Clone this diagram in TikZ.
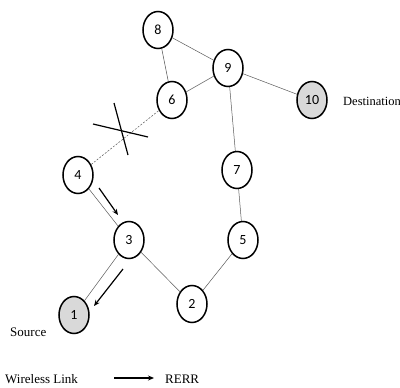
\documentclass[tikz,border=0pt]{standalone}
\usepackage{fontspec}
\setmainfont{Liberation Serif}
\newfontfamily\numfont{Carlito}
\usetikzlibrary{shapes.geometric,arrows.meta}
\begin{document}
\begin{tikzpicture}[x=1pt,y=-1pt,
  nd/.style={ellipse,draw=black,line width=1.5pt,minimum width=30pt,minimum height=37pt,inner sep=0pt,fill=white,font=\numfont\fontsize{14}{15}\selectfont},
  gnd/.style={nd,fill=black!15},
  link/.style={draw=black!65,line width=0.5pt},
  rerr/.style={-{Stealth[length=6pt,width=5pt]},line width=1.2pt},
  lbl/.style={font=\fontsize{13}{14}\selectfont,inner sep=0pt}]
\useasboundingbox (0,0) rectangle (400,388);
\node[nd] (n8) at (158,30) {8};
\node[nd] (n9) at (228,68) {9};
\node[nd] (n6) at (172,100) {6};
\node[gnd] (n10) at (312,100) {10};
\node[nd] (n4) at (78,175) {4};
\node[nd] (n7) at (237,170) {7};
\node[nd] (n3) at (129,240) {3};
\node[nd] (n5) at (243,240) {5};
\node[nd] (n2) at (192,304) {2};
\node[gnd] (n1) at (74,315) {1};
\node[lbl,anchor=west,font=\fontsize{12.5}{14}\selectfont] (dst) at (343,101) {Destination};
\node[lbl,anchor=west] (src) at (10,332) {Source};
\node[lbl,anchor=west] (wl) at (5,379) {Wireless Link};
\node[lbl,anchor=west] (re) at (165,379) {RERR};
\draw[link] (n8) -- (n9);
\draw[link] (n8) -- (n6);
\draw[link] (n6) -- (n9);
\draw[link] (n9) -- (n10);
\draw[link] (n9) -- (n7);
\draw[link] (n7) -- (n5);
\draw[link] (n5) -- (n2);
\draw[link] (n2) -- (n3);
\draw[link] (n3) -- (n4);
\draw[link] (n3) -- (n1);
\draw[link,dash pattern=on 2pt off 1.5pt] (n4) -- (n6);
\coordinate (xa) at (93,124);
\coordinate (xb) at (148,137);
\coordinate (xc) at (114,103);
\coordinate (xd) at (128,155);
\draw[line width=1.2pt] (xa) -- (xb);
\draw[line width=1.2pt] (xc) -- (xd);
\coordinate (a1s) at (99,188);
\coordinate (a1e) at (118,215);
\coordinate (a2s) at (123,269);
\coordinate (a2e) at (94,306);
\draw[rerr] (a1s) -- (a1e);
\draw[rerr] (a2s) -- (a2e);
\coordinate (ls) at (114,378);
\coordinate (le) at (154,378);
\draw[rerr] (ls) -- (le);
\end{tikzpicture}
\end{document}
